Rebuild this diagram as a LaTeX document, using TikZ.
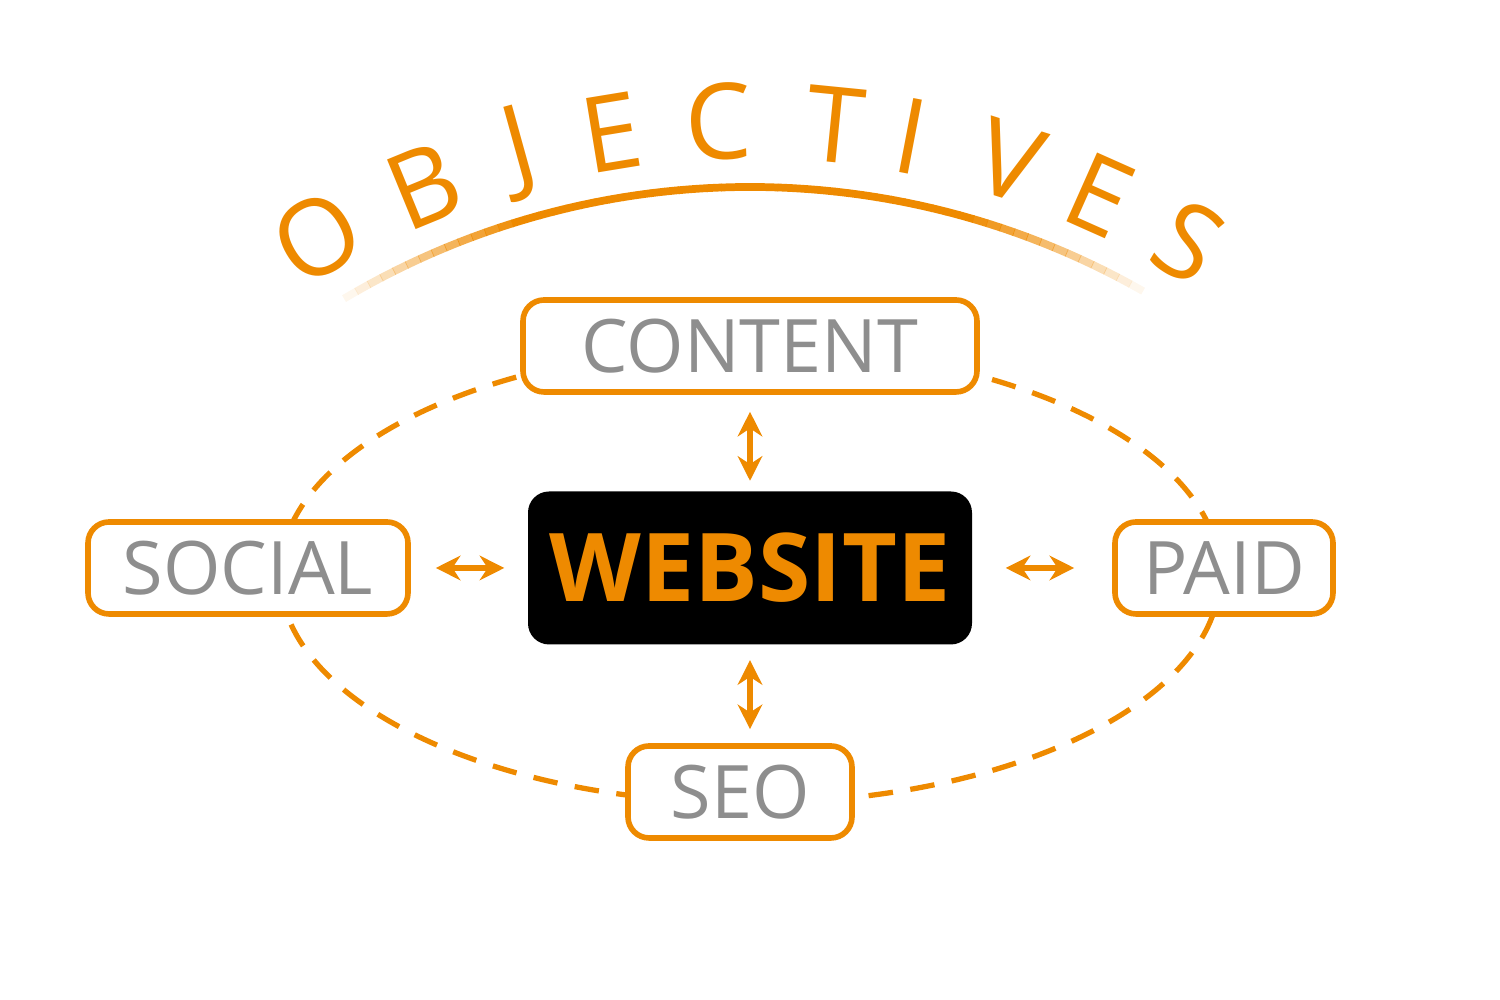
\documentclass[tikz,border=0pt]{standalone}
\usepackage{fontspec}
\setmainfont{Open Sans}
\usetikzlibrary{arrows.meta}
\definecolor{objorange}{HTML}{EE8A00}
\definecolor{boxgray}{HTML}{8E8E8E}
\tikzset{
  channel/.style={draw=objorange, line width=1.6pt, rounded corners=6pt, fill=white,
    minimum height=0.92cm, text=boxgray, font=\fontsize{21}{21}\selectfont, inner sep=0pt},
  link/.style={objorange, line width=1.6pt, {Stealth[length=7pt,width=7pt]}-{Stealth[length=7pt,width=7pt]}}
}
\begin{document}
\begin{tikzpicture}
  \useasboundingbox (0,0) rectangle (15,10);

  % Arco con degradado
  \foreach \a in {0,1,...,60} {
    \pgfmathsetmacro\op{min(1,min(\a,60-\a)/14)}
    \draw[objorange, line width=2.2pt, opacity=\op]
      ({7.5+7.94*cos(59.3+\a*61.4/60)},{0.19+7.94*sin(59.3+\a*61.4/60)}) arc ({59.3+\a*61.4/60}:{59.3+(\a+1.05)*61.4/60}:7.94);
  }

  % Letras del titulo
  \foreach \l/\ang in {O/120.2,B/112.3,J/105.5,E/99.3,C/92.1,T/84.3,I/79.2,V/72.4,E/66,S/59.3}
    \node[objorange, rotate=\ang-90, font=\fontsize{30}{30}\selectfont]
      at ({7.5+8.6*cos(\ang)},{0.19+8.6*sin(\ang)}) {\l};

  % Elipse discontinua
  \draw[objorange, line width=1.5pt, dash pattern=on 7pt off 5pt] (7.5,4.25) ellipse (4.7 and 2.28);

  % Nodos
  \node[channel, minimum width=4.54cm] (content) at (7.5,6.54) {CONTENT};
  \node[channel, minimum width=3.2cm] (social) at (2.48,4.32) {SOCIAL};
  \node[channel, minimum width=2.18cm] (paid) at (12.24,4.32) {PAID};
  \node[channel, minimum width=2.24cm] (seo) at (7.4,2.08) {SEO};
  \node[fill=black, rounded corners=6pt, minimum width=4.44cm, minimum height=1.53cm,
    text=objorange, font=\bfseries\fontsize{27}{27}\selectfont] (website) at (7.5,4.32) {WEBSITE};

  % Flechas
  \draw[link, shorten <=0.17cm, shorten >=0.1cm] (content.south) -- (website.north);
  \draw[link, shorten <=0.25cm, shorten >=0.23cm] (social.east) -- (website.west);
  \draw[link, shorten <=0.33cm, shorten >=0.38cm] (website.east) -- (paid.west);
  \draw[link, shorten <=0.15cm, shorten >=0.14cm] (website.south) -- (website.south |- seo.north);
\end{tikzpicture}
\end{document}
